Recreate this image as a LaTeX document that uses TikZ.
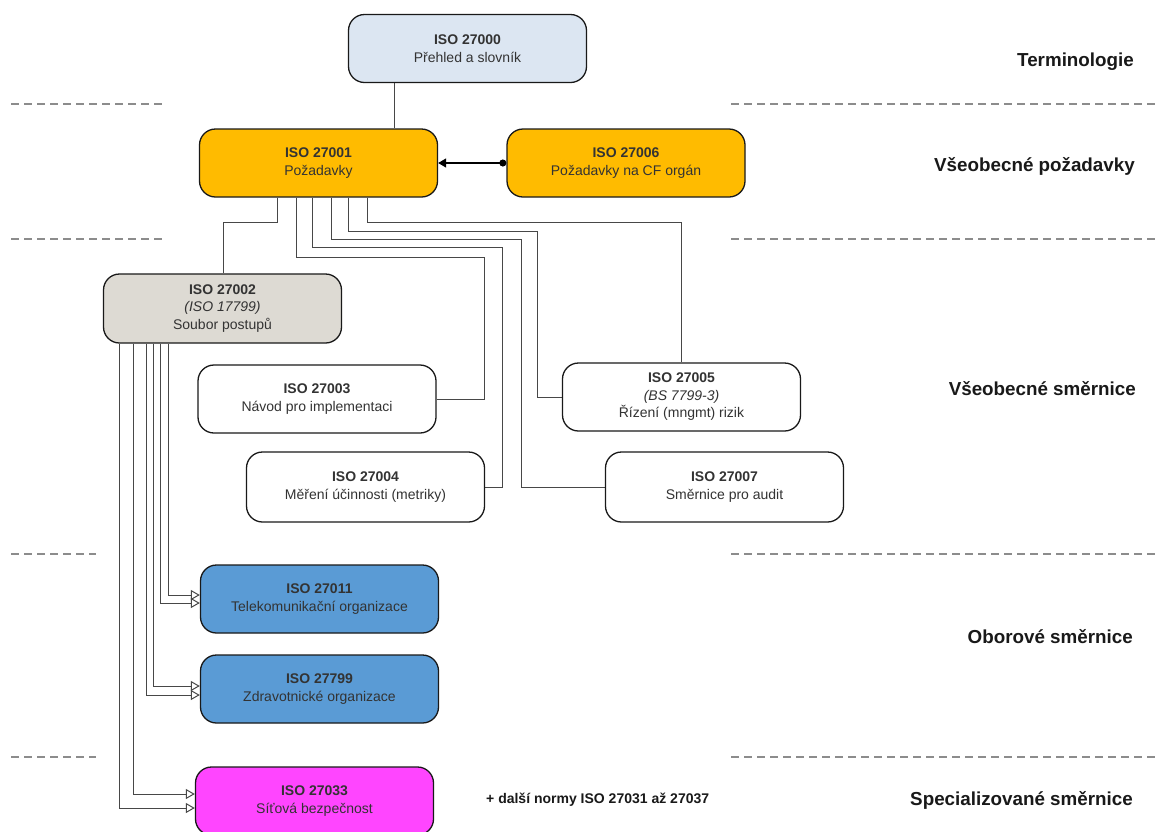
\documentclass[tikz,border=0pt]{standalone}
\usepackage{fontspec}
\setmainfont{Liberation Sans}
\usetikzlibrary{arrows.meta,backgrounds}

\definecolor{termfill}{HTML}{DCE6F2}
\definecolor{reqfill}{HTML}{FFBB00}
\definecolor{codefill}{HTML}{DDDAD3}
\definecolor{sectorfill}{HTML}{5A9BD5}
\definecolor{specfill}{HTML}{FF45FF}
\definecolor{boxtext}{HTML}{333333}

\tikzset{
  stdbox/.style={draw=black!90, line width=1.3pt, rounded corners=16pt,
    minimum width=238pt, minimum height=68pt, inner sep=0pt, align=center,
    font=\fontsize{14}{17.5}\selectfont, text=boxtext},
  link/.style={draw=black!72, line width=1pt},
  feed/.style={link, -{Triangle[open,length=9pt,width=10pt]}},
  band/.style={draw=black!45, line width=1.4pt, dash pattern=on 8pt off 5pt},
  rowlabel/.style={anchor=east, inner sep=0pt, text=black!90,
    font=\fontsize{18.8}{22}\selectfont\bfseries},
  note/.style={anchor=west, inner sep=0pt, text=black!90,
    font=\fontsize{14}{17}\selectfont\bfseries},
}

\begin{document}
\begin{tikzpicture}[x=1pt,y=-1pt]
\path[use as bounding box] (0,0) rectangle (1156,831);
\clip (0,0) rectangle (1156,831);

% standards
\node[stdbox, fill=termfill] (n0) at (467.5,48.5) {\textbf{ISO 27000}\\Přehled a slovník};
\node[stdbox, fill=reqfill] (n1) at (318.5,163) {\textbf{ISO 27001}\\Požadavky};
\node[stdbox, fill=reqfill] (n6) at (626,163) {\textbf{ISO 27006}\\Požadavky na CF orgán};
\node[stdbox, fill=codefill, minimum height=69pt] (n2) at (222.5,308.5) {\textbf{ISO 27002}\\\textit{(ISO 17799)}\\Soubor postupů};
\node[stdbox, fill=white] (n3) at (317,399) {\textbf{ISO 27003}\\Návod pro implementaci};
\node[stdbox, fill=white, minimum height=70pt] (n4) at (365.5,487) {\textbf{ISO 27004}\\Měření účinnosti (metriky)};
\node[stdbox, fill=white] (n5) at (681.5,397) {\textbf{ISO 27005}\\\textit{(BS 7799-3)}\\Řízení (mngmt) rizik};
\node[stdbox, fill=white, minimum height=70pt] (n7) at (724.5,487) {\textbf{ISO 27007}\\Směrnice pro audit};
\node[stdbox, fill=sectorfill] (n11) at (319.5,599) {\textbf{ISO 27011}\\Telekomunikační organizace};
\node[stdbox, fill=sectorfill] (n99) at (319.5,689) {\textbf{ISO 27799}\\Zdravotnické organizace};
\node[stdbox, fill=specfill] (n33) at (314.5,801) {\textbf{ISO 27033}\\Síťová bezpečnost};

% layer labels on the right
\node[rowlabel] (lt) at (1134,62) {Terminologie};
\node[rowlabel] (lr) at (1135,166) {Všeobecné požadavky};
\node[rowlabel] (lg) at (1136,389) {Všeobecné směrnice};
\node[rowlabel] (ls) at (1133,637) {Oborové směrnice};
\node[rowlabel] (lp) at (1133,800) {Specializované směrnice};
\node[note] (more) at (486,800) {+ další normy ISO 27031 až 27037};

% accreditation link
\draw[line width=1.3pt, {Circle[length=7pt]}-{Triangle[length=8pt,width=9pt]}] (n6.west) -- (n1.east);

\begin{scope}[on background layer]
  \fill[white] (0,0) rectangle (1156,831);

  % layer separators
  \draw[band] (11,104) -- (165,104);
  \draw[band] (731,104) -- (1156,104);
  \draw[band] (11,239) -- (165,239);
  \draw[band] (731,239) -- (1156,239);
  \draw[band] (11,554) -- (96,554);
  \draw[band] (731,554) -- (1156,554);
  \draw[band] (11,757) -- (96,757);
  \draw[band] (731,757) -- (1156,757);

  % terminology to requirements
  \draw[link] (n0.south -| 394,0) -- (n1.north -| 394,0);

  % requirements to general guidelines
  \draw[link] (n1.south -| 277,0) |- (223,222) -- (n2.north -| 223,0);
  \draw[link] (n1.south -| 296,0) |- (484,257) |- (n3.east);
  \draw[link] (n1.south -| 312,0) |- (502,247) |- (n4.east);
  \draw[link] (n1.south -| 331,0) |- (521,239) |- (n7.west);
  \draw[link] (n1.south -| 348,0) |- (537,231) |- (n5.west);
  \draw[link] (n1.south -| 367,0) |- (681.5,222) -- (n5.north);

  % code of practice to sector and specialised guidelines
  \draw[feed] (n2.south -| 168,0) |- (n11.west |- 0,595);
  \draw[feed] (n2.south -| 160,0) |- (n11.west |- 0,603);
  \draw[feed] (n2.south -| 153,0) |- (n99.west |- 0,686);
  \draw[feed] (n2.south -| 146,0) |- (n99.west |- 0,695);
  \draw[feed] (n2.south -| 133,0) |- (n33.west |- 0,794);
  \draw[feed] (n2.south -| 119,0) |- (n33.west |- 0,808);
\end{scope}
\end{tikzpicture}
\end{document}
